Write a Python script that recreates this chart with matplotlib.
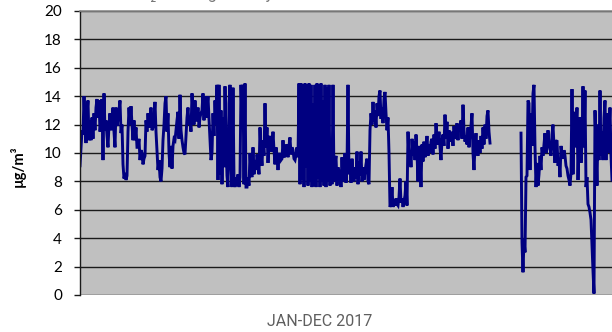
import numpy as np
import matplotlib
matplotlib.use('Agg')
import matplotlib.pyplot as plt

# hourly concentration (ug/m3), one value per pixel column
block1 = [9.1, 10.4, 11.6, 11.3, 14.0, 12.0, 10.7, 12.8, 13.7, 10.9,
          12.3, 10.9, 12.5, 11.0, 12.8, 11.6, 13.2, 13.8, 12.5, 13.7,
          11.5, 12.2, 13.8, 9.5, 14.2, 11.6, 12.3, 11.2, 10.4, 12.0,
          12.8, 11.6, 12.2, 13.2, 11.5, 10.4, 13.2, 11.9, 12.4, 13.0,
          13.7, 11.4, 12.0, 9.2, 8.2, 8.6, 8.1, 8.4, 11.5, 13.2,
          12.0, 13.3, 12.0, 10.9, 12.3, 10.9, 11.8, 10.4, 10.4, 11.0,
          9.5, 10.2, 10.0, 9.2, 9.6, 9.8, 12.3, 11.5, 12.8, 11.8,
          12.1, 13.2, 11.6, 11.8, 12.5, 13.6, 11.5, 10.2, 8.8, 9.5,
          8.3, 8.0, 8.9, 10.9, 12.0, 13.5, 14.0, 11.5, 12.8, 10.0,
          9.0, 10.5, 8.9, 10.5, 11.0, 10.9, 11.6, 12.3, 12.9, 11.0,
          14.1, 11.6, 10.9, 10.4, 10.0, 9.9, 11.2, 12.5, 13.2, 12.0,
          12.3, 11.5, 14.2, 12.8, 12.0, 13.7, 12.3, 12.3, 13.2, 11.8,
          12.5, 12.8, 13.0, 14.2, 12.3, 14.0, 12.5, 13.2, 14.0, 12.4,
          11.0, 9.5, 10.0, 12.8, 11.2, 13.7, 12.0, 14.8, 8.1, 14.8,
          8.5, 13.0, 7.8, 12.5, 9.0, 14.7, 11.0, 8.4, 7.6, 13.5,
          14.8, 9.0, 7.6, 14.6, 8.1, 7.6, 8.3, 7.7, 8.5, 7.6,
          8.3, 14.8, 12.2, 14.8, 7.8, 14.9, 7.6, 7.6, 8.3, 7.7,
          10.0, 8.6, 8.3, 10.4, 8.5, 9.5, 8.8, 9.9, 9.4, 8.5,
          11.8, 10.0, 9.1, 10.9, 9.8, 13.5, 10.4, 11.8, 9.3, 11.0,
          11.2, 10.1, 10.4, 11.5, 10.2, 9.2, 10.4, 9.9, 8.8, 9.8,
          10.0, 9.5, 9.6, 10.9, 9.7, 9.8, 10.6, 10.4, 9.7, 10.5,
          11.1, 9.9, 10.4, 10.2, 9.6, 9.5, 9.9, 10.4, 9.7, 14.9]
block2 = [7.8, 14.9, 8.1, 14.8, 7.6, 14.9, 9.0, 14.8, 7.7, 14.9,
          8.0, 14.8, 7.6, 13.5, 7.7, 14.8, 7.6, 14.9, 8.2, 14.8,
          7.6, 14.9, 8.0, 13.7, 7.7, 14.8, 7.6, 14.6, 8.0, 14.8,
          7.7, 10.2, 7.8, 14.8, 8.0, 9.3, 9.8, 7.7, 9.0, 8.1,
          8.8, 7.6, 9.7, 8.0, 8.4, 10.0, 7.9, 9.0, 14.8, 8.5,
          9.4, 7.9, 9.6, 8.4, 8.0, 9.0, 8.2, 10.1, 7.8, 9.4,
          8.4, 10.1, 8.0, 9.0, 8.1, 8.7, 9.2, 9.6, 8.0, 7.8]
block3 = [11.6, 12.8, 12.0, 13.6, 12.2, 13.0, 11.8, 13.5, 12.6, 14.0,
          14.4, 12.4, 13.2, 12.1, 13.8, 14.3, 12.8, 11.6, 12.5, 10.0]
block4 = [6.2, 6.4, 7.6, 6.2, 6.5, 6.3, 6.8, 6.4, 6.3, 6.9,
          8.2, 6.5, 6.8, 6.2, 6.6, 7.0, 8.0, 6.3, 11.5, 9.5]
block5 = [10.2, 9.0, 11.0, 9.8, 10.8, 9.5, 11.3, 10.0, 8.0, 10.5,
          9.8, 7.6, 10.6, 9.4, 10.8, 9.7, 10.2, 11.2, 9.8, 10.6,
          10.0, 10.8, 11.0, 9.9, 11.3, 10.3, 12.1, 11.0, 10.6, 11.5,
          10.4, 9.5, 10.9, 11.3, 10.5, 12.7, 11.0, 12.2, 10.3, 11.6,
          11.0, 10.8, 11.5, 10.5, 11.9, 11.0, 11.2, 12.1, 10.9, 12.0,
          11.5, 12.3, 11.0, 13.4, 11.6, 10.8, 11.2, 10.6, 11.8, 10.4,
          11.3, 11.9, 12.8, 10.0, 8.8, 10.5, 11.4, 10.2, 9.8, 10.9,
          10.0, 11.2, 10.3, 11.8, 10.6, 12.0, 11.0, 12.6, 13.0, 11.5,
          10.7]
n_missing = 30  # no data in this stretch
block6 = [11.4, 3.7, 1.6, 3.9, 3.0, 8.3, 8.4, 13.7, 13.5,
          8.8, 12.8, 10.5, 14.2, 14.8, 10.4, 7.6, 9.3, 7.7, 8.5,
          9.8, 8.8, 10.4, 9.8, 10.6, 11.4, 10.0, 10.3, 11.6, 10.6,
          10.4, 9.8, 11.3, 12.0, 10.5, 9.3, 10.8, 10.9, 9.1, 9.5,
          8.3, 10.5, 9.8, 9.6, 10.2, 9.8, 9.1, 8.9, 8.4, 8.1,
          7.7, 8.6, 14.5, 8.5, 12.9, 10.4, 11.5, 13.2, 8.1, 11.0,
          12.5, 9.3, 10.8, 14.7, 10.4, 14.4, 7.6, 8.3, 6.4, 6.2,
          5.8, 5.3, 3.4, 1.7, 0.1, 13.0, 10.4, 7.7, 12.0, 9.5,
          14.4, 9.8, 11.5, 9.5, 12.5, 13.7, 9.5, 12.8, 10.0, 11.5,
          13.2, 9.8, 8.1]

conc = np.array(block1 + block2 + block3 + block4 + block5
                + [np.nan] * n_missing + block6)
t = np.arange(len(conc))

yticks = np.arange(0, 21, 2)

#-----------------------------------------------------------------------------------#
fig = plt.figure(figsize=(6.12, 3.32), dpi=100)
ax = fig.add_axes([80/612, 37/332, 534/612, 284/332])
ax.set_facecolor('#c0c0c0')

ax.plot(t, conc, color='#000080', lw=2.1, solid_joinstyle='miter')

ax.set_xlim(0, 534)
ax.set_ylim(0, 20)
ax.set_yticks(yticks)
ax.set_xticks([])
ax.yaxis.grid(True, color='#1a1a1a', lw=1.0)
ax.set_axisbelow(True)

for s in ['right', 'bottom']:
    ax.spines[s].set_visible(False)
ax.spines['top'].set_color('#8a8a8a')
ax.spines['top'].set_linewidth(1.2)
ax.spines['left'].set_color('#1a1a1a')
ax.spines['left'].set_linewidth(1.0)
ax.tick_params(axis='y', direction='out', length=4.5, width=1.0, color='#1a1a1a',
               pad=8.5, labelsize=11)
for lbl in ax.get_yticklabels():
    lbl.set_fontfamily('Lato')

fig.text(18/612, 1 - 166/332, 'µg/m³', rotation=90, ha='center', va='center',
         fontsize=10.5, fontweight='bold', family='Lato')
fig.text(320/612, 1 - 322/332, 'JAN-DEC 2017', ha='center', va='center',
         fontsize=11.5, color='#5f5f5f', family='Roboto')
# title mostly cut off at the top edge in the original
fig.text(128/612, 1 + 1.5/332, 'NO₂ - average hourly values', ha='left', va='baseline',
         fontsize=11.5, color='#777777', family='Roboto')

fig.savefig('out.png', dpi=100)
